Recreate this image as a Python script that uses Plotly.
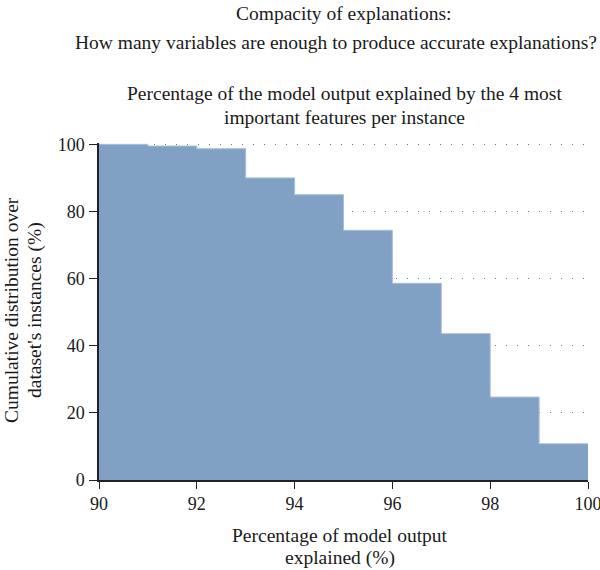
import plotly.graph_objects as go

# Data: bin edges (percentage of model output explained) and cumulative distribution (%)
bin_edges = [90, 91, 92, 93, 94, 95, 96, 97, 98, 99, 100]
cum_pct = [100.0, 99.5, 98.7, 90.0, 85.0, 74.4, 58.6, 43.6, 24.7, 10.8]
x_ticks = [90, 92, 94, 96, 98, 100]
y_ticks = [0, 20, 40, 60, 80, 100]

FONT = "Liberation Serif"
BAR = "#81a1c4"
TXT = "#1a1a1a"

L, R, T, B = 99, 12, 143, 90
W, H = 600, 570
pw = W - L - R
ph = H - T - B

def px(x):
    return (x - L) / pw

def py(y):
    return (H - B - y) / ph

fig = go.Figure()
fig.add_trace(go.Scatter(
    x=bin_edges,
    y=cum_pct + [cum_pct[-1]],
    mode="lines",
    line=dict(shape="hv", color="#a9bfd8", width=1),
    fill="tozeroy",
    fillcolor=BAR,
    showlegend=False,
    hoverinfo="x+y",
))

ann = []
def add_text(text, x, y, size, angle=0):
    ann.append(dict(text=text, x=px(x), y=py(y), xref="paper", yref="paper",
                    showarrow=False, textangle=angle,
                    font=dict(family=FONT, size=size, color=TXT),
                    xanchor="center", yanchor="middle"))

TS = 19.5
add_text("Compacity of explanations:", 344, 13, TS)
add_text("How many variables are enough to produce accurate explanations?", 336, 43, TS)
add_text("Percentage of the model output explained by the 4 most", 344, 93, TS)
add_text("important features per instance", 344, 117, TS)
add_text("Percentage of model output", 340, 535, TS)
add_text("explained (%)", 340, 558, TS)
add_text("Cumulative distribution over", 11, 310, TS, -90)
add_text("dataset's instances (%)", 35, 310, TS, -90)

fig.update_layout(
    width=W, height=H,
    margin=dict(l=L, r=R, t=T, b=B),
    paper_bgcolor="white", plot_bgcolor="white",
    annotations=ann,
    font=dict(family=FONT, size=18, color=TXT),
    xaxis=dict(range=[90, 100], tickvals=x_ticks, ticks="outside", ticklen=7,
               tickcolor="#222", showline=True, linecolor="#222", linewidth=1.5,
               showgrid=False, zeroline=False, ticklabelstandoff=0,
               ticklabeloverflow="allow", automargin=False,
               tickfont=dict(family=FONT, size=18, color=TXT)),
    yaxis=dict(range=[0, 100.4], tickvals=y_ticks, ticks="outside", ticklen=8,
               tickcolor="#222", showline=True, linecolor="#222", linewidth=1.5,
               showgrid=True, gridcolor="#777", griddash="1px,10px", gridwidth=1,
               zeroline=False, ticklabelstandoff=1, automargin=False,
               tickfont=dict(family=FONT, size=18, color=TXT)),
)

fig.write_html("out.html")
